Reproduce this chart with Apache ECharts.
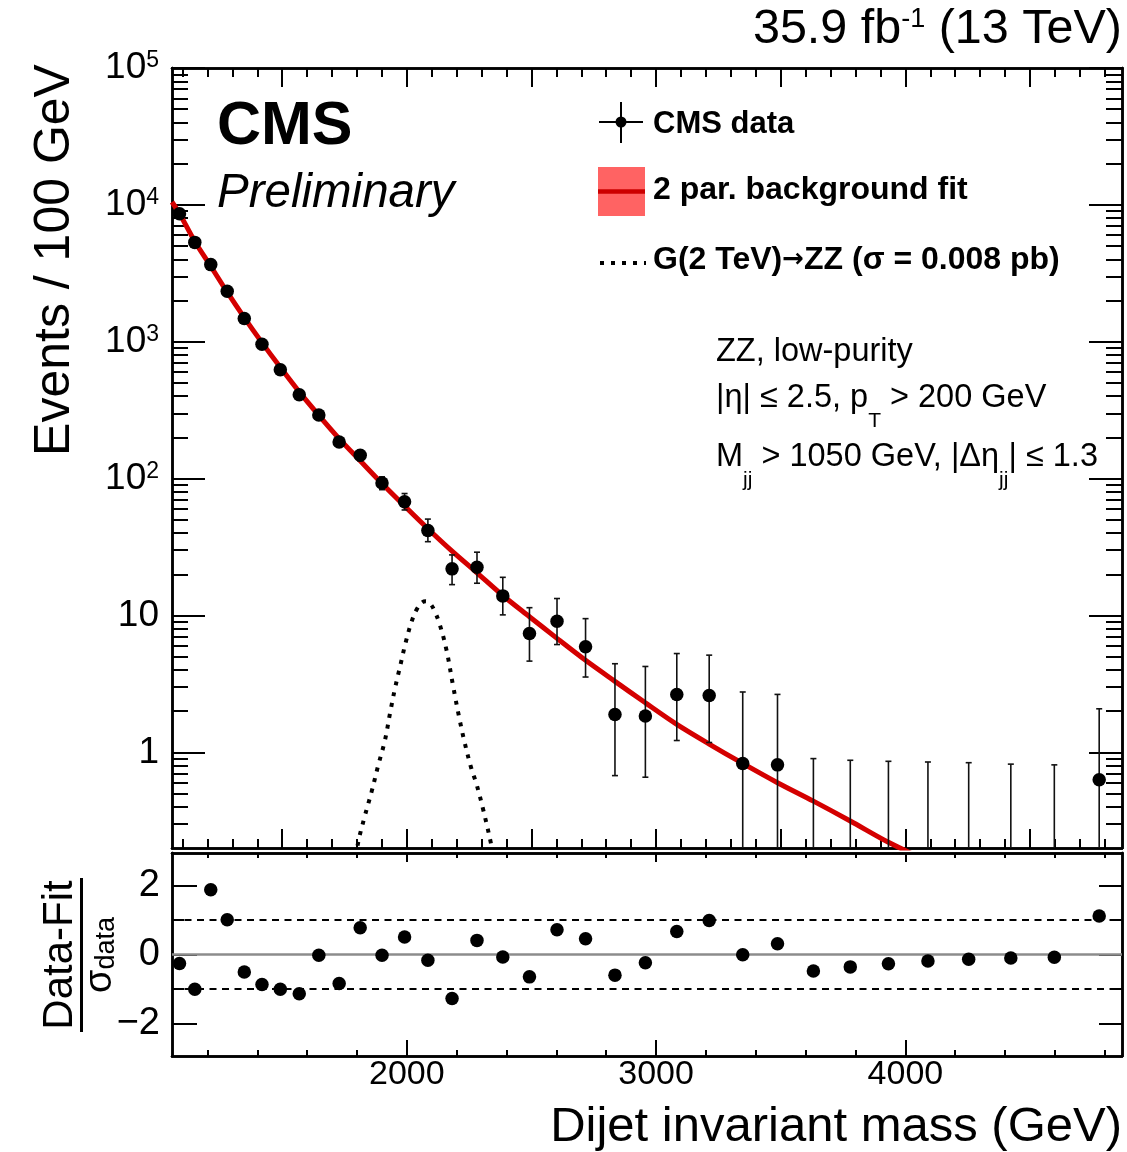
<!DOCTYPE html>
<html>
<head>
<meta charset="utf-8">
<script src="https://cdn.jsdelivr.net/npm/echarts@6/dist/echarts.min.js"></script>
<style>
  html, body { margin: 0; padding: 0; background: #fff; }
  #chart { width: 1127px; height: 1152px; }
</style>
</head>
<body>
<div id="chart"></div>
<script>
const FONT = '"Liberation Sans", Arial, Helvetica, sans-serif';

// dijet mass bin centres (GeV)
const massBins = [1088, 1149.5, 1213.5, 1279.5, 1348, 1419, 1492.5, 1568.5, 1647, 1728.5, 1813, 1900.5,
  1991, 2084.5, 2181.5, 2281.5, 2385, 2492, 2602.5, 2717, 2835, 2957, 3083, 3213, 3347.5, 3487,
  3631, 3779, 3932, 4090.5, 4254, 4423, 4597.5, 4777.5];
// events / 100 GeV (null = empty bin)
const eventsPer100 = [8600, 5320, 3660, 2340, 1480, 960, 624, 410, 292, 185, 148, 93,
  67.7, 41.7, 21.9, 22.5, 13.9, 7.38, 9.07, 5.9, 1.89, 1.84, 2.65, 2.6, 0.83, 0.81,
  null, null, null, null, null, null, null, 0.63];
// lower / upper ends of the error bars
const errDown = [8480, 5230, 3590, 2285, 1440, 930, 600, 390, 275, 171, 135, 83,
  59, 34.6, 16.8, 17.2, 10.1, 4.64, 6.13, 3.55, 0.676, 0.658, 1.22, 1.18, 0.13, 0.12,
  0, 0, 0, 0, 0, 0, 0, 0.09];
const errUp = [8720, 5410, 3730, 2395, 1520, 990, 648, 430, 309, 199, 161, 103,
  77.8, 50.6, 27.7, 29.0, 19.0, 11.4, 13.3, 9.48, 4.44, 4.24, 5.27, 5.13, 2.76, 2.65,
  0.9, 0.875, 0.86, 0.85, 0.84, 0.82, 0.81, 2.08];
// (data - fit) / sigma
const pulls = [-0.26, -1.01, 1.88, 1.01, -0.51, -0.87, -1.01, -1.14, -0.02, -0.84, 0.78, -0.02,
  0.51, -0.17, -1.28, 0.41, -0.07, -0.65, 0.72, 0.46, -0.6, -0.24, 0.67, 0.99, -0.01, 0.31,
  -0.48, -0.36, -0.27, -0.19, -0.14, -0.1, -0.08, 1.12];

// 2 parameter background fit
const fitMass = [1058, 1088, 1149.5, 1213.5, 1279.5, 1348, 1419, 1492.5, 1568.5, 1647, 1728.5, 1813,
  1900.5, 1991, 2084.5, 2181.5, 2281.5, 2385, 2492, 2602.5, 2717, 2835, 2957, 3083, 3213, 3347.5,
  3487, 3631, 3779, 3932, 4090.5];
const fitEvents = [10500, 8650, 5400, 3560, 2300, 1500, 985, 650, 430, 290, 196, 135,
  92, 63, 43, 29.5, 20.5, 14, 9.8, 6.8, 4.7, 3.3, 2.3, 1.6, 1.15, 0.83,
  0.6, 0.44, 0.315, 0.22, 0.16];

// G(2 TeV) -> ZZ signal shape
const signalMass = [1780, 1805, 1831, 1858, 1885, 1912, 1932, 1952, 1975, 1995, 2019, 2039, 2060,
  2076, 2095, 2112, 2132, 2159, 2185, 2210, 2232, 2259, 2279, 2305, 2339, 2365];
const signalEvents = [0.12, 0.22, 0.34, 0.51, 0.8, 1.22, 1.9, 2.9, 4.4, 6.3, 9.0, 11.0, 12.4,
  12.7, 12.1, 10.7, 8.6, 5.6, 3.1, 1.8, 1.18, 0.76, 0.59, 0.39, 0.21, 0.12];

// axis ticks and labels
const massTicksMajor = [1500, 2000, 2500, 3000, 3500, 4000, 4500];
const massTickLabels = [2000, 3000, 4000];
const eventTickLabels = [1, 10, 100, 1000, 10000, 100000];
const pullTickLabels = [-2, 0, 2];
const pullMinorTicks = [-1, 1];
const pullRefLines = [-1, 0, 1];

const X_MIN = 1058, X_MAX = 4869;
const Y_MIN = 0.2, Y_MAX = 100001;
const P_MIN = -2.95, P_MAX = 2.95;

const massTicks100 = [];
for (let m = 1100; m <= 4800; m += 100) massTicks100.push(m);
const massTicks200 = [];
for (let m = 1200; m <= 4800; m += 200) massTicks200.push(m);
const eventMinorTicks = [];
[0.1, 1, 10, 100, 1000, 10000].forEach(function (d) {
  for (let k = 2; k <= 9; k++) {
    const v = d * k;
    if (v > Y_MIN && v < Y_MAX) eventMinorTicks.push(v);
  }
});

const TOP = { left: 172, top: 68, width: 950, height: 780, containLabel: false };
const BOT = { left: 172, top: 853, width: 950, height: 203, containLabel: false };
const grid = [];
for (let i = 0; i < 4; i++) grid.push(Object.assign({}, TOP));
for (let i = 0; i < 4; i++) grid.push(Object.assign({}, BOT));

const frameLine = { show: true, onZero: false, lineStyle: { color: '#000', width: 2.5 } };

function massAxis(gridIndex, position, ticks, len, withLabels) {
  return {
    type: 'value', gridIndex: gridIndex, position: position, min: X_MIN, max: X_MAX,
    axisLine: frameLine,
    axisTick: { show: true, inside: true, length: len, customValues: ticks, lineStyle: { color: '#000', width: 2 } },
    axisLabel: withLabels ? {
      show: true, customValues: massTickLabels, margin: 2, color: '#000',
      fontFamily: FONT, fontSize: 34,
      formatter: function (v) { return String(Math.round(v)); }
    } : { show: false },
    splitLine: { show: false }
  };
}

function eventsAxis(gridIndex, position, ticks, len, withLabels) {
  return {
    type: 'log', logBase: 10, gridIndex: gridIndex, position: position, min: Y_MIN, max: Y_MAX,
    axisLine: frameLine,
    axisTick: { show: true, inside: true, length: len, customValues: ticks, lineStyle: { color: '#000', width: 2 } },
    axisLabel: withLabels ? {
      show: true, customValues: eventTickLabels, margin: 13, color: '#000',
      fontFamily: FONT, fontSize: 37,
      formatter: function (v) {
        const e = Math.round(Math.log10(v));
        if (e === 0) return '{p|1}';
        if (e === 1) return '{p|10}';
        return '{b|10}{s|' + e + '}';
      },
      rich: {
        p: { fontFamily: FONT, fontSize: 37, lineHeight: 37, color: '#000' },
        b: { fontFamily: FONT, fontSize: 37, lineHeight: 37, padding: [6, 0, 0, 0], verticalAlign: 'bottom', color: '#000' },
        s: { fontFamily: FONT, fontSize: 23, lineHeight: 23, padding: [0, 0, 19, 0], verticalAlign: 'top', color: '#000' }
      }
    } : { show: false },
    splitLine: { show: false }
  };
}

function pullAxis(gridIndex, position, ticks, len, withLabels) {
  return {
    type: 'value', gridIndex: gridIndex, position: position, min: P_MIN, max: P_MAX,
    axisLine: frameLine,
    axisTick: { show: true, inside: true, length: len, customValues: ticks, lineStyle: { color: '#000', width: 2 } },
    axisLabel: withLabels ? {
      show: true, customValues: pullTickLabels, margin: 12, color: '#000',
      fontFamily: FONT, fontSize: 38,
      formatter: function (v) { return v < 0 ? '\u2212' + (-v) : String(v); }
    } : { show: false },
    splitLine: { show: false }
  };
}

function renderErrorBar(params, api) {
  const x = api.value(0);
  const lo = api.value(1);
  const hi = api.value(2);
  const top = api.coord([x, hi]);
  const bot = api.coord([x, Math.max(lo, Y_MIN)]);
  const style = { stroke: '#111', lineWidth: 1.6 };
  const children = [
    { type: 'line', shape: { x1: top[0], y1: top[1], x2: bot[0], y2: bot[1] }, style: style },
    { type: 'line', shape: { x1: top[0] - 3, y1: top[1], x2: top[0] + 3, y2: top[1] }, style: style }
  ];
  if (lo > Y_MIN) {
    children.push({ type: 'line', shape: { x1: bot[0] - 3, y1: bot[1], x2: bot[0] + 3, y2: bot[1] }, style: style });
  }
  return { type: 'group', children: children };
}

function txt(x, y, text, size, extra) {
  return {
    type: 'text', x: x, y: y, silent: true,
    style: Object.assign({ text: text, fontFamily: FONT, fontSize: size, fill: '#000', align: 'left', verticalAlign: 'middle' }, extra || {})
  };
}

const infoRich = {
  n: { fontFamily: FONT, fontSize: 32.5, lineHeight: 33, verticalAlign: 'top', color: '#000' },
  sub: { fontFamily: FONT, fontSize: 21, lineHeight: 21, verticalAlign: 'top', padding: [29, 0, 0, 0], color: '#000' }
};

const legendRich = {
  t: { fontFamily: FONT, fontSize: 32, fontWeight: 'bold', color: '#000' },
  a: { fontFamily: '"DejaVu Sans", sans-serif', fontSize: 26, fontWeight: 'bold', color: '#000' }
};

const graphics = [
  // luminosity header
  {
    type: 'text', x: 1122, y: 6, silent: true,
    style: {
      text: '{a|35.9 fb}{s|-1}{a| (13 TeV)}', align: 'right', verticalAlign: 'top', fill: '#000',
      rich: {
        a: { fontFamily: FONT, fontSize: 48.5, lineHeight: 48, verticalAlign: 'bottom', color: '#000' },
        s: { fontFamily: FONT, fontSize: 27, lineHeight: 27, verticalAlign: 'top', padding: [0, 0, 28, 0], color: '#000' }
      }
    }
  },
  txt(217, 127, 'CMS', 61, { fontWeight: 'bold' }),
  txt(217, 194, 'Preliminary', 47.5, { fontStyle: 'italic' }),

  // legend
  { type: 'line', silent: true, shape: { x1: 599, y1: 122, x2: 643, y2: 122 }, style: { stroke: '#000', lineWidth: 2 } },
  { type: 'line', silent: true, shape: { x1: 621, y1: 102, x2: 621, y2: 143 }, style: { stroke: '#000', lineWidth: 2 } },
  { type: 'circle', silent: true, shape: { cx: 621, cy: 122, r: 5.5 }, style: { fill: '#000' } },
  txt(653, 124, 'CMS data', 31, { fontWeight: 'bold' }),
  { type: 'rect', silent: true, shape: { x: 598, y: 167, width: 47, height: 49 }, style: { fill: '#ff6363' } },
  { type: 'line', silent: true, shape: { x1: 598, y1: 191.5, x2: 645, y2: 191.5 }, style: { stroke: '#cc0000', lineWidth: 4.5 } },
  txt(653, 190, '2 par. background fit', 32, { fontWeight: 'bold' }),
  { type: 'line', silent: true, shape: { x1: 600, y1: 263, x2: 646, y2: 263 }, style: { stroke: '#000', lineWidth: 4, lineDash: [4, 7] } },
  txt(653, 260, '{t|G(2 TeV)}{a|\u2192}{t|ZZ (\u03c3 = 0.008 pb)}', 32, { rich: legendRich }),

  // selection info
  txt(716, 352, 'ZZ, low-purity', 32.5),
  txt(716, 382, '{n||\u03b7| \u2264 2.5, p}{sub|T}{n| > 200 GeV}', 32.5, { verticalAlign: 'top', rich: infoRich }),
  txt(716, 441, '{n|M}{sub|jj}{n| > 1050 GeV, |\u0394\u03b7}{sub|jj}{n|| \u2264 1.3}', 32.5, { verticalAlign: 'top', rich: infoRich }),

  // axis titles
  {
    type: 'text', x: 55, y: 260, rotation: Math.PI / 2, silent: true,
    style: { text: 'Events / 100 GeV', fontFamily: FONT, fontSize: 50, fill: '#000', align: 'center', verticalAlign: 'middle' }
  },
  txt(1122, 1127, 'Dijet invariant mass (GeV)', 49, { align: 'right' }),
  {
    type: 'text', x: 60, y: 955, rotation: Math.PI / 2, silent: true,
    style: { text: 'Data-Fit', fontFamily: FONT, fontSize: 42, fill: '#000', align: 'center', verticalAlign: 'middle' }
  },
  { type: 'line', silent: true, shape: { x1: 81.5, y1: 878, x2: 81.5, y2: 1032 }, style: { stroke: '#000', lineWidth: 3 } },
  {
    type: 'text', x: 101, y: 955, rotation: Math.PI / 2, silent: true,
    style: {
      text: '{s|\u03c3}{d|data}', align: 'center', verticalAlign: 'middle', fill: '#000',
      rich: {
        s: { fontFamily: FONT, fontSize: 38, lineHeight: 38, verticalAlign: 'top', color: '#000' },
        d: { fontFamily: FONT, fontSize: 27, lineHeight: 27, verticalAlign: 'bottom', padding: [26, 0, 0, 0], color: '#000' }
      }
    }
  }
];

const option = {
  animation: false,
  backgroundColor: '#fff',
  textStyle: { fontFamily: FONT },
  grid: grid,
  xAxis: [
    massAxis(0, 'bottom', massTicksMajor, 19),
    massAxis(1, 'top', massTicksMajor, 19),
    massAxis(2, 'bottom', massTicks100, 9),
    massAxis(3, 'top', massTicks100, 9),
    massAxis(4, 'bottom', massTickLabels, 16, true),
    massAxis(5, 'top', massTickLabels, 9),
    massAxis(6, 'bottom', massTicks200, 6),
    massAxis(7, 'top', massTicks200, 5)
  ],
  yAxis: [
    eventsAxis(0, 'left', eventTickLabels, 33, true),
    eventsAxis(1, 'right', eventTickLabels, 33),
    eventsAxis(2, 'left', eventMinorTicks, 16),
    eventsAxis(3, 'right', eventMinorTicks, 16),
    pullAxis(4, 'left', pullTickLabels, 25, true),
    pullAxis(5, 'right', pullTickLabels, 23),
    pullAxis(6, 'left', pullMinorTicks, 12),
    pullAxis(7, 'right', pullMinorTicks, 12)
  ],
  series: [
    {
      name: 'fit', type: 'line', xAxisIndex: 0, yAxisIndex: 0, z: 3,
      data: fitMass.map(function (m, i) { return [m, fitEvents[i]]; }),
      showSymbol: false, smooth: 0.3, clip: true,
      lineStyle: { color: '#d40000', width: 5 }
    },
    {
      name: 'signal', type: 'line', xAxisIndex: 0, yAxisIndex: 0, z: 3,
      data: signalMass.map(function (m, i) { return [m, signalEvents[i]]; }),
      showSymbol: false, smooth: 0.4, clip: true,
      lineStyle: { color: '#000', width: 4, type: [4, 7] }
    },
    {
      name: 'errors', type: 'custom', xAxisIndex: 0, yAxisIndex: 0, z: 4, clip: true,
      renderItem: renderErrorBar,
      encode: { x: 0, y: [1, 2] },
      data: massBins.map(function (m, i) { return [m, errDown[i], errUp[i]]; })
    },
    {
      name: 'CMS data', type: 'scatter', xAxisIndex: 0, yAxisIndex: 0, z: 5,
      symbol: 'circle', symbolSize: 13.5, itemStyle: { color: '#000', opacity: 1 },
      data: massBins.map(function (m, i) { return [m, eventsPer100[i]]; })
        .filter(function (d) { return d[1] !== null; })
    },
    {
      name: 'pulls', type: 'scatter', xAxisIndex: 4, yAxisIndex: 4, z: 10,
      symbol: 'circle', symbolSize: 13.5, itemStyle: { color: '#000', opacity: 1 },
      data: massBins.map(function (m, i) { return [m, pulls[i]]; }),
      markLine: {
        silent: true, symbol: ['none', 'none'], label: { show: false }, animation: false,
        data: pullRefLines.map(function (v) {
          return {
            yAxis: v,
            lineStyle: v === 0
              ? { color: '#8c8c8c', width: 2.5, type: 'solid' }
              : { color: '#000', width: 2, type: [7, 5.5] }
          };
        })
      }
    }
  ],
  graphic: graphics
};

const chart = echarts.init(document.getElementById('chart'), null, { renderer: 'canvas' });
chart.setOption(option);
</script>
</body>
</html>
